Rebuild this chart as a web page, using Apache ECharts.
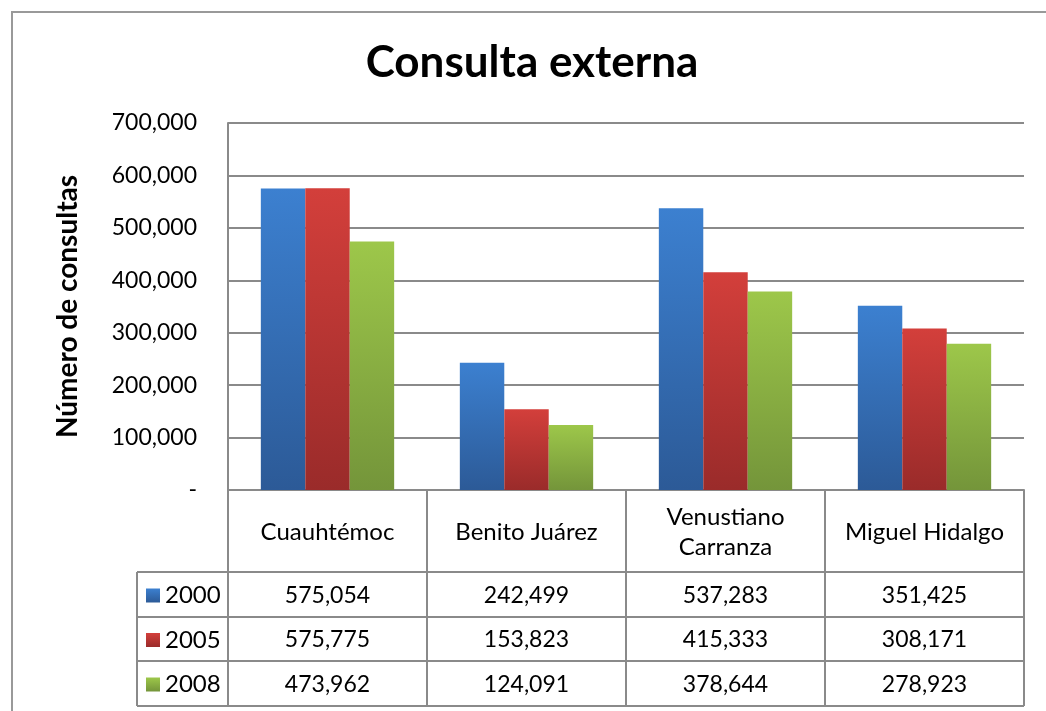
<!DOCTYPE html>
<html>
<head>
<meta charset="utf-8">
<script src="https://cdn.jsdelivr.net/npm/echarts@6/dist/echarts.min.js"></script>
<style>
  html, body { margin: 0; padding: 0; background: #fff; }
  #chart { width: 1046px; height: 711px; }
</style>
</head>
<body>
<div id="chart"></div>
<script>
// datos del gráfico
let delegaciones = ['Cuauhtémoc', 'Benito Juárez', 'Venustiano\nCarranza', 'Miguel Hidalgo'];
let years = ['2000', '2005', '2008'];
let v2000 = [575054, 242499, 537283, 351425];
let v2005 = [575775, 153823, 415333, 308171];
let v2008 = [473962, 124091, 378644, 278923];
let yTicks = [0, 100000, 200000, 300000, 400000, 500000, 600000, 700000];

let font = 'Lato, sans-serif';
let lineGray = '#8a8a8a';
let colors = [
  ['#3c80d0', '#2c5a97'],
  ['#d33f3b', '#9a2b2a'],
  ['#9dc74a', '#74953a']
];
let allValues = [v2000, v2005, v2008];

// rejilla
let gLeft = 228, gRight = 1024, gTop = 123, gBottom = 490;
let rowH = [490, 572, 617, 661, 706];
let tableLeft = 137;

let myChart = echarts.init(document.getElementById('chart'));

function fmt(n) {
  return n.toString().replace(/\B(?=(\d{3})+(?!\d))/g, ',');
}

function grad(c) {
  return new echarts.graphic.LinearGradient(0, 0, 0, 1, [
    { offset: 0, color: c[0] },
    { offset: 1, color: c[1] }
  ]);
}

let series = years.map(function (y, i) {
  return {
    name: y,
    type: 'bar',
    data: allValues[i],
    barGap: '0%',
    barCategoryGap: '33%',
    itemStyle: {
      color: grad(colors[i]),
      shadowBlur: 4,
      shadowOffsetX: 2,
      shadowOffsetY: 1,
      shadowColor: 'rgba(0,0,0,0.3)'
    }
  };
});

let option = {
  animation: false,
  title: {
    text: 'Consulta externa',
    left: 527,
    textAlign: 'center',
    top: 36,
    textStyle: { fontFamily: font, fontWeight: 'bold', fontSize: 44, color: '#000' }
  },
  grid: {
    left: gLeft,
    right: 1046 - gRight,
    top: gTop,
    bottom: 711 - gBottom
  },
  xAxis: {
    type: 'category',
    data: delegaciones,
    axisLine: { show: true, lineStyle: { color: lineGray, width: 2 } },
    axisTick: { show: false },
    axisLabel: { show: false }
  },
  yAxis: {
    type: 'value',
    min: 0,
    max: 700000,
    interval: 100000,
    name: 'Número de consultas',
    nameLocation: 'middle',
    nameGap: 146,
    nameTextStyle: { fontFamily: font, fontWeight: 'bold', fontSize: 28, color: '#000' },
    axisLine: { show: true, lineStyle: { color: lineGray, width: 2 } },
    axisTick: { show: false },
    axisLabel: {
      margin: 31,
      fontFamily: font,
      fontSize: 23,
      color: '#000',
      formatter: function (v) { return v === 0 ? '-' : fmt(v); }
    },
    splitLine: { show: true, lineStyle: { color: lineGray, width: 2 } }
  },
  series: series
};

myChart.setOption(option);

// tabla de datos
function buildTable() {
  let els = [];
  let lineStyle = { stroke: lineGray, lineWidth: 2 };
  let catW = (gRight - gLeft) / delegaciones.length;
  let bounds = [];
  for (let i = 0; i <= delegaciones.length; i++) bounds.push(gLeft + catW * i);

  // marco exterior
  els.push({ type: 'rect', shape: { x: 12, y: 12, width: 1060, height: 720 }, style: { fill: 'none', stroke: '#999', lineWidth: 2 } });

  // líneas horizontales
  els.push({ type: 'line', shape: { x1: gLeft, y1: rowH[0], x2: gRight, y2: rowH[0] }, style: lineStyle });
  for (let r = 1; r < rowH.length; r++) {
    els.push({ type: 'line', shape: { x1: tableLeft, y1: rowH[r], x2: gRight, y2: rowH[r] }, style: lineStyle });
  }
  // líneas verticales
  bounds.forEach(function (x) {
    els.push({ type: 'line', shape: { x1: x, y1: rowH[0], x2: x, y2: rowH[4] }, style: lineStyle });
  });
  els.push({ type: 'line', shape: { x1: tableLeft, y1: rowH[1], x2: tableLeft, y2: rowH[4] }, style: lineStyle });

  // encabezados
  delegaciones.forEach(function (name, i) {
    let cx = myChart.convertToPixel({ xAxisIndex: 0 }, i);
    els.push({
      type: 'text',
      style: {
        x: cx, y: (rowH[0] + rowH[1]) / 2 + 1,
        text: name, align: 'center', verticalAlign: 'middle',
        fontFamily: 'Lato', fontSize: 24, fill: '#000', lineHeight: 30
      }
    });
  });

  // filas
  years.forEach(function (y, r) {
    let cy = (rowH[r + 1] + rowH[r + 2]) / 2 + 1;
    els.push({ type: 'rect', shape: { x: 146, y: cy - 7, width: 14, height: 14 }, style: { fill: grad(colors[r]) } });
    els.push({
      type: 'text',
      style: { x: 165, y: cy, text: y, align: 'left', verticalAlign: 'middle', fontFamily: 'Lato', fontSize: 24, fill: '#000' }
    });
    allValues[r].forEach(function (v, i) {
      let cx = myChart.convertToPixel({ xAxisIndex: 0 }, i);
      els.push({
        type: 'text',
        style: { x: cx, y: cy, text: fmt(v), align: 'center', verticalAlign: 'middle', fontFamily: 'Lato', fontSize: 23, fill: '#000' }
      });
    });
  });
  myChart.setOption({ graphic: els });
}

buildTable();
window.onresize = function () { myChart.resize(); buildTable(); };
</script>
</body>
</html>
